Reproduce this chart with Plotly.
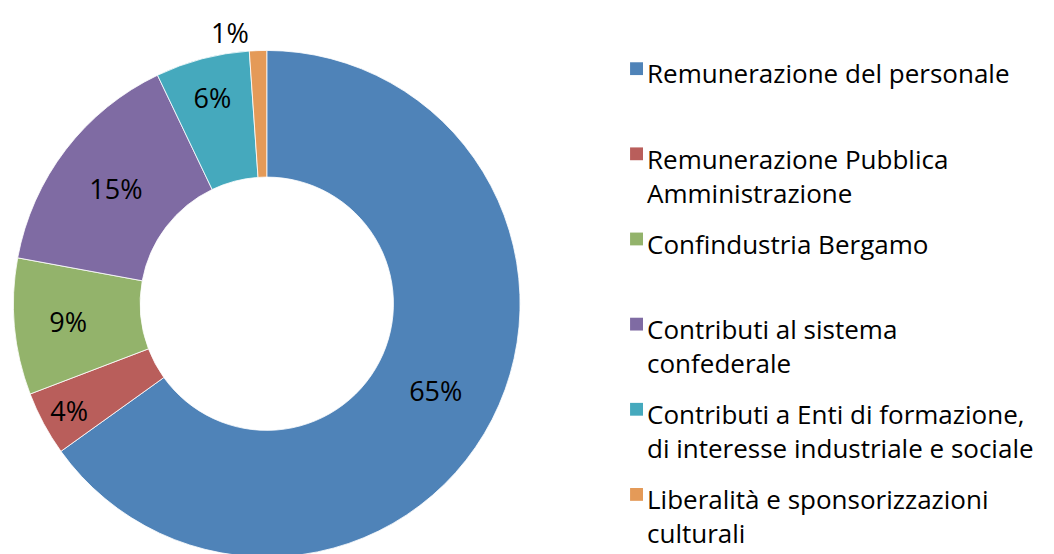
import plotly.graph_objects as go

labels = ["Remunerazione del personale",
          "Remunerazione Pubblica Amministrazione",
          "Confindustria Bergamo",
          "Contributi al sistema confederale",
          "Contributi a Enti di formazione, di interesse industriale e sociale",
          "Liberalità e sponsorizzazioni culturali"]
legend_text = ["Remunerazione del personale",
               "Remunerazione Pubblica<br>Amministrazione",
               "Confindustria Bergamo",
               "Contributi al sistema<br>confederale",
               "Contributi a Enti di formazione,<br>di interesse industriale e sociale",
               "Liberalità e sponsorizzazioni<br>culturali"]
values = [65.1, 4.1, 8.7, 15.0, 6.0, 1.1]
colors = ["#4f83b8", "#b95e5b", "#93b36b", "#7f6ba3", "#45a9bd", "#e49a58"]

FONT = "Open Sans"
W, H = 1054, 554

fig = go.Figure(go.Pie(
    labels=labels, values=values, sort=False, direction="clockwise", rotation=0,
    hole=0.5, marker=dict(colors=colors, line=dict(color="white", width=0.8)),
    texttemplate="%{percent:.0%}", textposition=["inside"] * 5 + ["outside"],
    insidetextorientation="horizontal",
    textfont=dict(family=FONT, size=27, color="black"),
    domain=dict(x=[0, 510 / W], y=[1 / H, 515 / H]),
    showlegend=False, hoverinfo="label+percent"))

# legend drawn by hand so the item spacing matches the original
shapes, annotations = [], []
for i, (txt, col) in enumerate(zip(legend_text, colors)):
    top = 51 + 86.4 * i
    shapes.append(dict(type="rect", xref="paper", yref="paper",
                       x0=620 / W, x1=633 / W, y0=1 - (top + 13) / H, y1=1 - top / H,
                       fillcolor=col, line=dict(width=0)))
    annotations.append(dict(text=txt, xref="paper", yref="paper", x=635 / W, y=1 - (top - 9) / H,
                            xanchor="left", yanchor="top", align="left", showarrow=False,
                            font=dict(family=FONT, size=26, color="black")))

fig.update_layout(width=W, height=H, margin=dict(l=0, r=0, t=0, b=0),
                  paper_bgcolor="white", plot_bgcolor="white",
                  shapes=shapes, annotations=annotations,
                  uniformtext=dict(minsize=27, mode="show"))
fig.write_html("out.html")
